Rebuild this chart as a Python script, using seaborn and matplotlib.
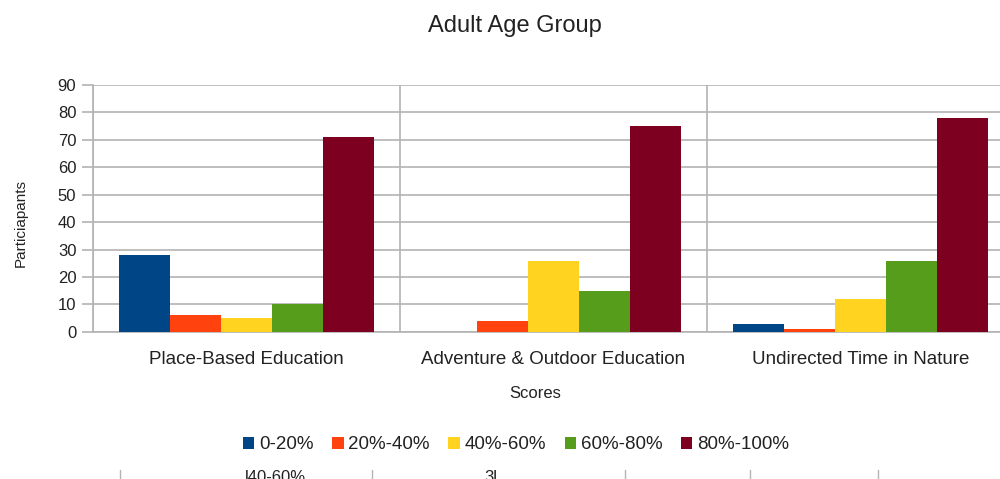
import matplotlib
matplotlib.use("Agg")
import matplotlib.pyplot as plt
import seaborn as sns
import pandas as pd
from matplotlib.ticker import FixedLocator

categories = ["Place-Based Education", "Adventure & Outdoor Education", "Undirected Time in Nature"]
score_ranges = ["0-20%", "20%-40%", "40%-60%", "60%-80%", "80%-100%"]
range_0_20 = [28, 0, 3]
range_20_40 = [6, 4, 1]
range_40_60 = [5, 26, 12]
range_60_80 = [10, 15, 26]
range_80_100 = [71, 75, 78]
y_ticks = [0, 10, 20, 30, 40, 50, 60, 70, 80, 90]

colors = ["#004586", "#ff420e", "#ffd320", "#579d1c", "#7e0021"]

series = [range_0_20, range_20_40, range_40_60, range_60_80, range_80_100]
rows = []
for name, vals in zip(score_ranges, series):
    for cat, v in zip(categories, vals):
        rows.append({"category": cat, "range": name, "value": v})
df = pd.DataFrame(rows)

sns.set_style("white")
plt.rcParams["font.family"] = ["Liberation Sans", "DejaVu Sans"]

fig = plt.figure(figsize=(10, 4.79), dpi=100)
ax = fig.add_axes([0.093, 0.307, 0.921, 0.516])

sns.barplot(data=df, x="category", y="value", hue="range", order=categories,
            hue_order=score_ranges, palette=colors, width=0.83, saturation=1,
            linewidth=0, ax=ax, legend=True, zorder=3)

grid_c = "#b3b3b3"
ax.set_xlim(-0.5, 2.5)
ax.set_ylim(0, 90)
ax.set_yticks(y_ticks)
ax.yaxis.grid(True, color=grid_c, linewidth=1.2, zorder=0)
ax.xaxis.set_minor_locator(FixedLocator([-0.5, 0.5, 1.5, 2.5]))
ax.xaxis.grid(True, which="minor", color=grid_c, linewidth=1.2, zorder=0)
ax.tick_params(axis="x", which="major", length=0, pad=14, labelsize=13.5, colors="#222222")
ax.tick_params(axis="x", which="minor", length=13, width=1.2, color=grid_c, direction="out")
ax.tick_params(axis="y", length=8, width=1.2, color=grid_c, labelsize=12,
               labelcolor="#222222", pad=4, left=True)
for side in ["top", "right"]:
    ax.spines[side].set_visible(False)
for side in ["left", "bottom"]:
    ax.spines[side].set_color(grid_c)
    ax.spines[side].set_linewidth(1.2)
ax.set_axisbelow(True)

ax.set_xlabel("Scores", fontsize=12, color="#222222")
ax.set_ylabel("Particiapants", fontsize=11, color="#222222")
ax.xaxis.set_label_coords(0.48, -0.22)
ax.yaxis.set_label_coords(-0.071, 0.44)

ax.legend(loc="center", bbox_to_anchor=(0.516, 0.071), bbox_transform=fig.transFigure,
          ncol=5, frameon=False, fontsize=13.5, handlelength=0.6, handleheight=0.6,
          handletextpad=0.25, columnspacing=1.0, labelcolor="#222222")

fig.text(0.515, 0.945, "Adult Age Group", ha="center", va="center", fontsize=17, color="#222222")

# Edge of the neighbouring chart below
for xp in [0.120, 0.372, 0.625, 0.750, 0.878]:
    fig.add_artist(plt.Line2D([xp, xp], [0.0, 0.018], color=grid_c, linewidth=1.0,
                              transform=fig.transFigure))
fig.text(0.245, -0.012, "l40-60%", ha="left", va="bottom", fontsize=12, color="#222222")
fig.text(0.484, -0.012, "3l", ha="left", va="bottom", fontsize=12, color="#222222")

fig.savefig("out.png", dpi=100)
